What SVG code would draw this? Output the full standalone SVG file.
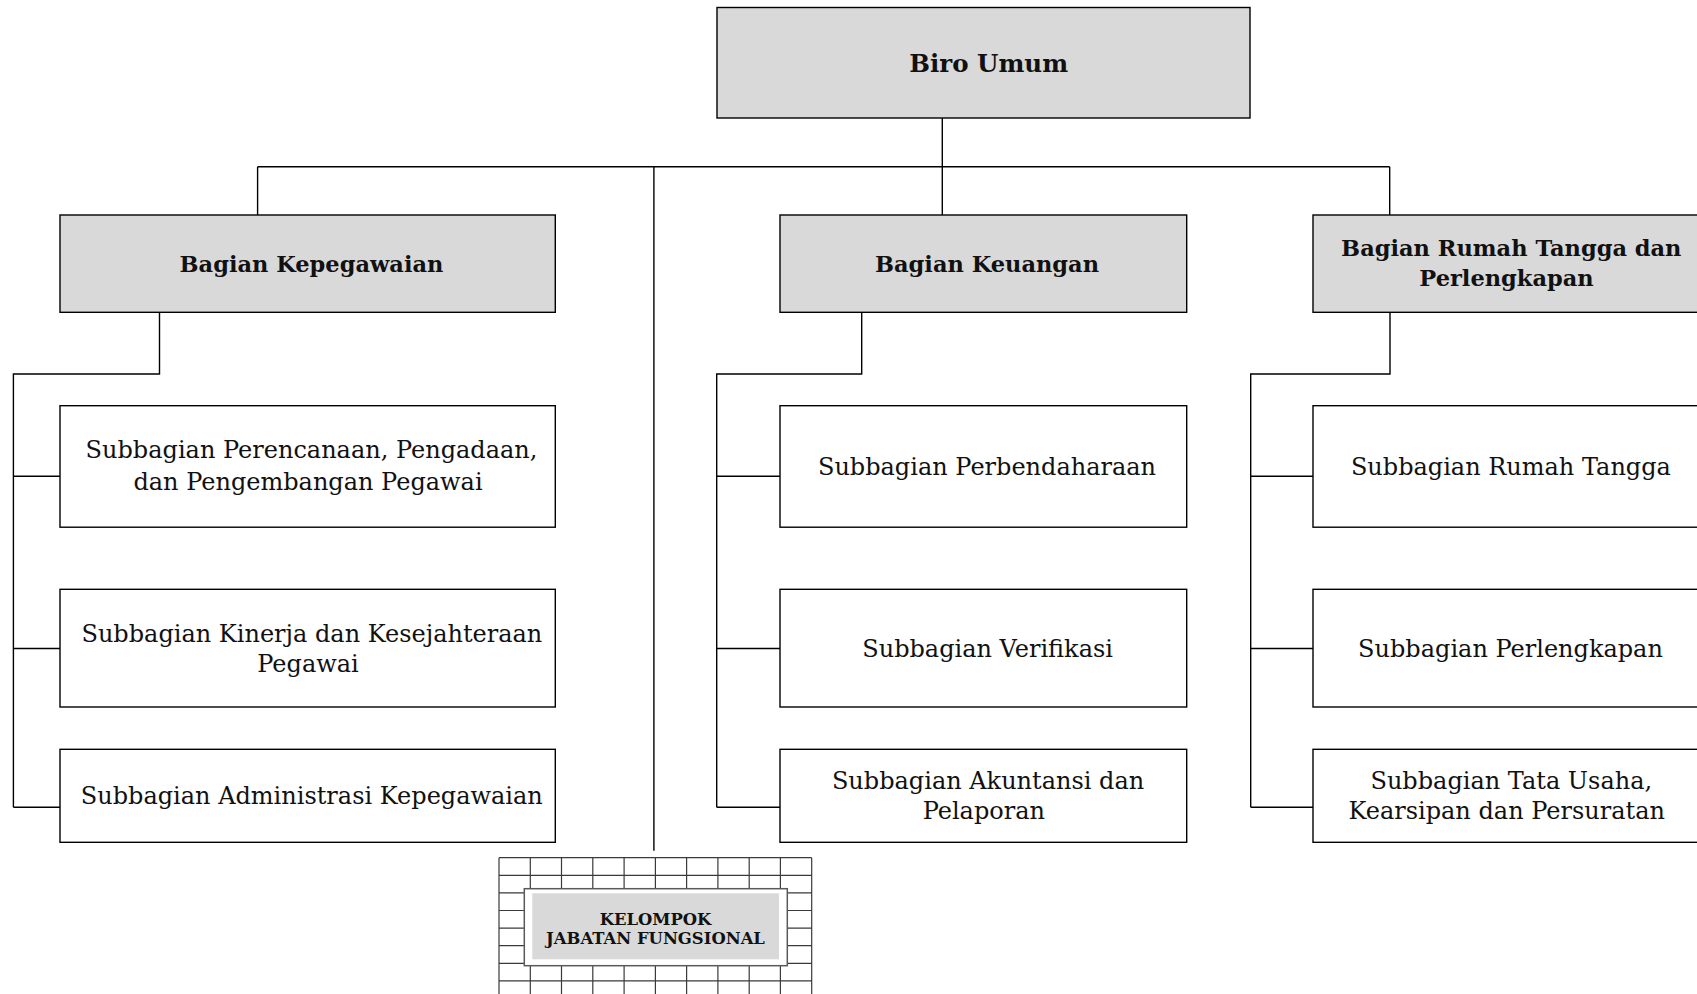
<svg xmlns="http://www.w3.org/2000/svg" width="1697" height="994" viewBox="0 0 1697 994">
<defs>
<style>
.box{fill:#ffffff;stroke:#000;stroke-width:1.4}
.hd{fill:#d9d9d9;stroke:#000;stroke-width:1.4}
.ln{fill:none;stroke:#000;stroke-width:1.4}
.grid{fill:none;stroke:#3a3a3a;stroke-width:1.2}
.t{font-family:"DejaVu Serif","Liberation Serif",serif;font-size:24px;fill:#111;text-anchor:middle}
.b{font-family:"DejaVu Serif","Liberation Serif",serif;font-size:22.5px;font-weight:bold;fill:#111;text-anchor:middle}
.k{font-family:"DejaVu Serif","Liberation Serif",serif;font-size:16.4px;font-weight:bold;fill:#111;text-anchor:middle}
</style>
</defs>
<rect width="1697" height="994" fill="#fff"/>
<g id="connectors">
<path class="ln" d="M942.3 118 V166.7 M257.6 166.7 H1389.7 M257.6 166.7 V215 M942.3 166.7 V215 M1389.7 166.7 V215 M653.9 166.7 V850.7"/>
<path class="ln" d="M159.5 312.3 V374 H13.4 V807.3 M13.4 476.3 H60 M13.4 648.5 H60 M13.4 807.3 H60"/>
<path class="ln" d="M861.7 312.3 V374 H716.7 V807.3 M716.7 476.3 H780 M716.7 648.5 H780 M716.7 807.3 H780"/>
<path class="ln" d="M1390 312.3 V374 H1250.7 V807.3 M1250.7 476.3 H1313 M1250.7 648.5 H1313 M1250.7 807.3 H1313"/>
</g>
<g id="biro-umum">
<rect class="hd" x="717" y="7.5" width="533" height="110.5"/>
<text class="b" x="988.7" y="71.7" style="font-size:24.5px">Biro Umum</text>
</g>
<g id="bagian-kepegawaian">
<rect class="hd" x="60" y="215" width="495.3" height="97.3"/>
<text class="b" x="311.5" y="271.7">Bagian Kepegawaian</text>
</g>
<g id="bagian-keuangan">
<rect class="hd" x="780" y="215" width="406.7" height="97.3"/>
<text class="b" x="987" y="271.7">Bagian Keuangan</text>
</g>
<g id="bagian-rumah-tangga">
<rect class="hd" x="1313" y="215" width="400" height="97.3"/>
<text class="b" x="1511.3" y="255.6">Bagian Rumah Tangga dan</text>
<text class="b" x="1506.5" y="286.2">Perlengkapan</text>
</g>
<g id="sub-perencanaan">
<rect class="box" x="60" y="405.7" width="495.3" height="121.5"/>
<text class="t" x="311.5" y="458">Subbagian Perencanaan, Pengadaan,</text>
<text class="t" x="308" y="489.5">dan Pengembangan Pegawai</text>
</g>
<g id="sub-kinerja">
<rect class="box" x="60" y="589.3" width="495.3" height="117.7"/>
<text class="t" x="311.9" y="642">Subbagian Kinerja dan Kesejahteraan</text>
<text class="t" x="308" y="672.2">Pegawai</text>
</g>
<g id="sub-administrasi">
<rect class="box" x="60" y="749.3" width="495.3" height="93"/>
<text class="t" x="311.8" y="804.4">Subbagian Administrasi Kepegawaian</text>
</g>
<g id="sub-perbendaharaan">
<rect class="box" x="780" y="405.7" width="406.7" height="121.5"/>
<text class="t" x="987" y="475">Subbagian Perbendaharaan</text>
</g>
<g id="sub-verifikasi">
<rect class="box" x="780" y="589.3" width="406.7" height="117.7"/>
<text class="t" x="987.6" y="656.7">Subbagian Verifikasi</text>
</g>
<g id="sub-akuntansi">
<rect class="box" x="780" y="749.3" width="406.7" height="93"/>
<text class="t" x="988.1" y="789.3">Subbagian Akuntansi dan</text>
<text class="t" x="983.8" y="819.4">Pelaporan</text>
</g>
<g id="sub-rumah-tangga">
<rect class="box" x="1313" y="405.7" width="400" height="121.5"/>
<text class="t" x="1510.9" y="475">Subbagian Rumah Tangga</text>
</g>
<g id="sub-perlengkapan">
<rect class="box" x="1313" y="589.3" width="400" height="117.7"/>
<text class="t" x="1510.5" y="657.3">Subbagian Perlengkapan</text>
</g>
<g id="sub-tata-usaha">
<rect class="box" x="1313" y="749.3" width="400" height="93"/>
<text class="t" x="1511.3" y="789">Subbagian Tata Usaha,</text>
<text class="t" x="1506.7" y="819.4">Kearsipan dan Persuratan</text>
</g>
<g id="kelompok-jabatan-fungsional">
<path class="grid" d="M499 857.7 V994 M530.3 857.7 V994 M561.5 857.7 V994 M592.8 857.7 V994 M624.1 857.7 V994 M655.4 857.7 V994 M686.6 857.7 V994 M717.9 857.7 V994 M749.2 857.7 V994 M780.4 857.7 V994 M811.7 857.7 V994 M499 857.7 H811.7 M499 875.3 H811.7 M499 892.9 H811.7 M499 910.5 H811.7 M499 928.1 H811.7 M499 945.7 H811.7 M499 963.3 H811.7 M499 980.9 H811.7"/>
<rect x="524.3" y="888.7" width="263" height="77" fill="#fff" stroke="#5a5a5a" stroke-width="1.5"/>
<rect x="532.3" y="893.3" width="246.7" height="66" fill="#d9d9d9"/>
<text class="k" x="655.5" y="925.4">KELOMPOK</text>
<text class="k" x="655.5" y="943.8">JABATAN FUNGSIONAL</text>
</g>
</svg>
